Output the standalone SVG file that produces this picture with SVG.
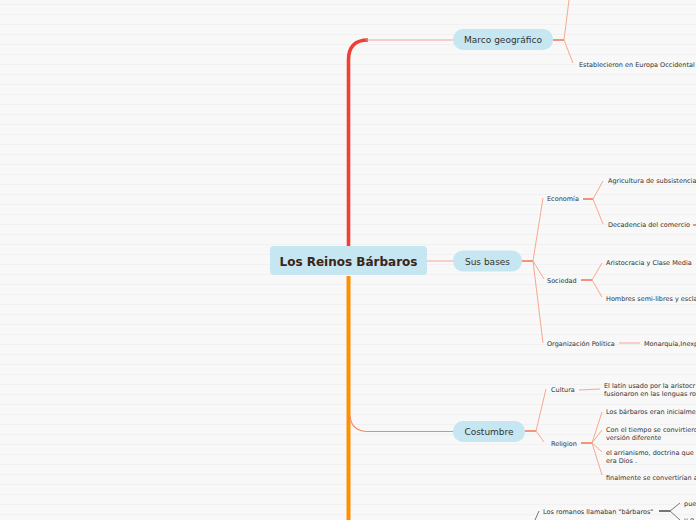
<svg xmlns="http://www.w3.org/2000/svg" width="696" height="520" viewBox="0 0 696 520">
<defs>
<pattern id="stripes" x="0" y="0" width="696" height="10" patternUnits="userSpaceOnUse">
<rect x="0" y="0" width="696" height="10" fill="#f8f8f8"/>
<rect x="0" y="4" width="696" height="1" fill="#f1f1f1"/>
</pattern>
<style>
.nd{fill:#c6e6f1;}
.t{font-family:"DejaVu Sans",Verdana,sans-serif;font-size:6.5px;fill:#333;}
.nt{font-family:"DejaVu Sans",Verdana,sans-serif;font-size:9px;fill:#333;text-anchor:middle;}
.ct{font-family:"DejaVu Sans",Verdana,sans-serif;font-size:12px;font-weight:bold;fill:#3b2418;text-anchor:middle;}
.fan{fill:none;stroke:#f6a88e;stroke-width:1;}
.stub{fill:none;stroke:#ef7a5a;stroke-width:1.6;}
.link{fill:none;stroke:#f4a698;stroke-width:1;}
.gfan{fill:none;stroke:#777;stroke-width:1;}
.gstub{fill:none;stroke:#555;stroke-width:1.6;}
</style>
</defs>
<rect x="0" y="0" width="696" height="520" fill="url(#stripes)"/>

<g id="connectors">
<path d="M348.5,246 L348.5,60 Q348.5,40 368,40" fill="none" stroke="#ee4036" stroke-width="3.6"/>
<path d="M366,40 L453,40" class="link"/>
<path d="M348.5,276 L348.5,520" fill="none" stroke="#ff8f00" stroke-width="4"/>
<path d="M350,416 Q351.5,431.5 368,431.5 L453,431.5" fill="none" stroke="#f08a6a" stroke-width="1.2"/>
<path d="M427,261 L453,261" class="link"/>

<path d="M553,40 L564,40" class="stub"/>
<path d="M564,40 L569,0 M564,40 L573,63" class="fan"/>

<path d="M522,261 L533,261" class="stub"/>
<path d="M533,261 L543,198 M533,261 L544,279 M533,261 L543,343" class="fan"/>
<path d="M583,199 L593,199" class="stub"/>
<path d="M593,199 L603,181 M593,199 L603,224" class="fan"/>
<path d="M693,225 L696,225" class="stub"/>
<path d="M581,280 L592,280" class="stub"/>
<path d="M592,280 L602,263 M592,280 L602,297" class="fan"/>
<path d="M619,343 L640,343" class="link"/>

<path d="M525,431 L536,431" class="stub"/>
<path d="M536,431 L546,389 M536,431 L544,442" class="fan"/>
<path d="M579,390 L600,389" class="link"/>
<path d="M581,443 L592,443" class="stub"/>
<path d="M592,443 L602,412 M592,443 L602,430 M592,443 L602,452 M592,443 L602,475" class="fan"/>

<path d="M539,511 L535,520" class="gfan"/>
<path d="M659,511 L670,511" class="gstub"/>
<path d="M670,511 L680,503 M670,511 L680,520" class="gfan"/>
</g>

<g id="central">
<rect x="270" y="246" width="157" height="29" rx="4" class="nd"/>
<text x="348.5" y="265.5" class="ct">Los Reinos Bárbaros</text>
</g>

<g id="marco">
<rect x="453" y="29" width="100" height="21" rx="10" class="nd"/>
<text x="503" y="43.2" class="nt">Marco geográfico</text>
</g>
<g id="establecieron"><text x="579" y="67" class="t">Establecieron en Europa Occidental</text></g>

<g id="susbases">
<rect x="453" y="250.5" width="69" height="21" rx="10" class="nd"/>
<text x="487.5" y="264.5" class="nt">Sus bases</text>
</g>
<g id="economia"><text x="547" y="201" class="t">Economía</text></g>
<g id="agricultura"><text x="608" y="183" class="t">Agricultura de subsistencia</text></g>
<g id="decadencia"><text x="608" y="227" class="t">Decadencia del comercio</text></g>
<g id="sociedad"><text x="547" y="283" class="t">Sociedad</text></g>
<g id="aristocracia"><text x="606" y="264.5" class="t">Aristocracia y Clase Media</text></g>
<g id="hombres"><text x="606" y="300.5" class="t">Hombres semi-libres y escla</text></g>
<g id="organizacion"><text x="547" y="345.5" class="t">Organización Política</text></g>
<g id="monarquia"><text x="644" y="345.5" class="t">Monarquía,Inexp</text></g>

<g id="costumbre">
<rect x="453" y="421" width="72" height="21" rx="10" class="nd"/>
<text x="489" y="435" class="nt">Costumbre</text>
</g>
<g id="cultura"><text x="551" y="392" class="t">Cultura</text></g>
<g id="latin"><text x="604" y="387.5" class="t">El latín usado por la aristocr</text><text x="604" y="395.5" class="t">fusionaron en las lenguas ro</text></g>
<g id="religion"><text x="551" y="446" class="t">Religion</text></g>
<g id="barbaros"><text x="606" y="413.5" class="t">Los bárbaros eran inicialme</text></g>
<g id="tiempo"><text x="606" y="431.5" class="t">Con el tiempo se convirtiero</text><text x="606" y="439.5" class="t">versión diferente</text></g>
<g id="arrianismo"><text x="606" y="454.5" class="t">el arrianismo, doctrina que</text><text x="606" y="462.5" class="t">era Dios .</text></g>
<g id="finalmente"><text x="606" y="479.5" class="t">finalmente se convertirían a</text></g>

<g id="romanos"><text x="543" y="513.5" class="t">Los romanos llamaban "bárbaros"</text></g>
<g id="pue"><text x="684" y="505.5" class="t">pue</text></g>
<g id="yq"><text x="684" y="521.5" class="t">y q</text></g>
</svg>
